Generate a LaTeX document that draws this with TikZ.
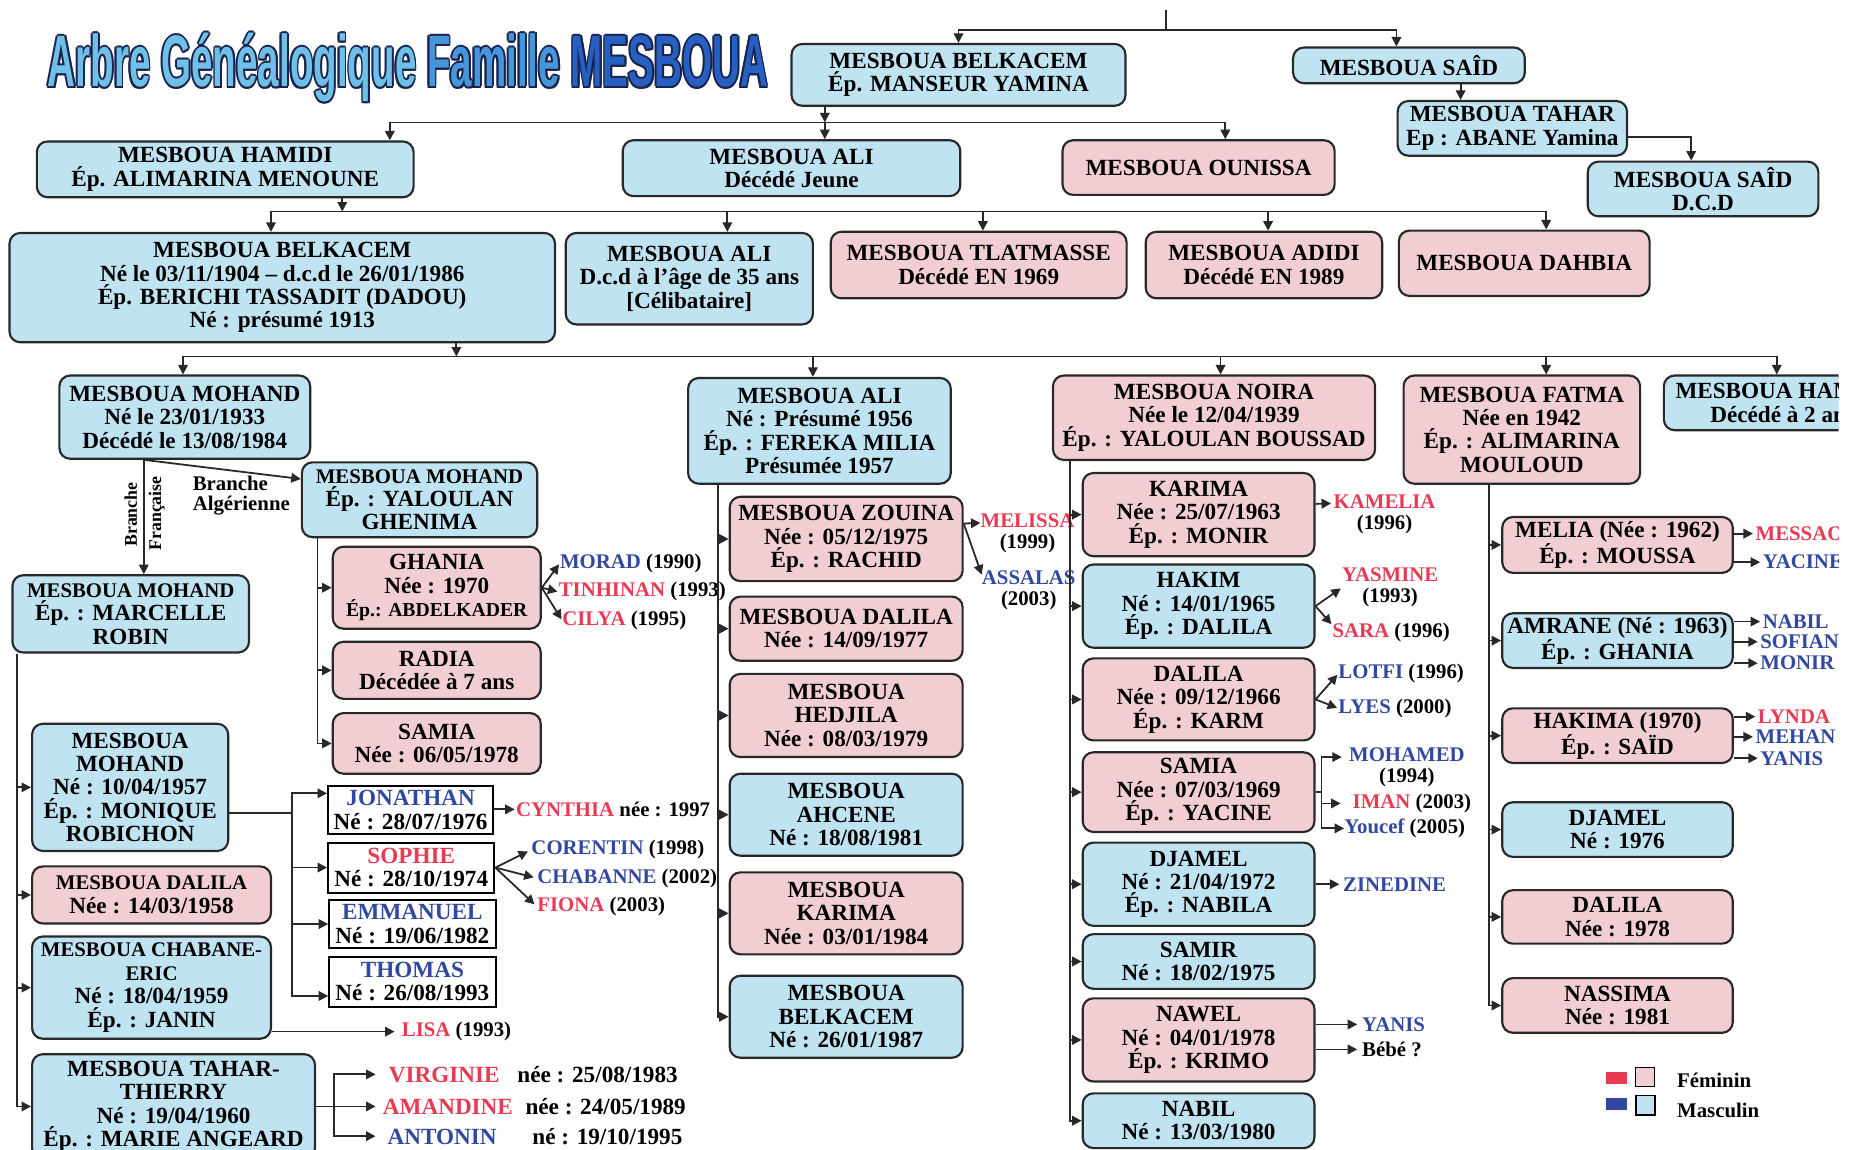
\documentclass[tikz,border=0pt]{standalone}
\usepackage{fontspec}
\usepackage{graphicx}
\setmainfont{Liberation Serif}
\newfontfamily\titlefont{Liberation Sans}
\usetikzlibrary{arrows.meta}
\definecolor{mfill}{RGB}{192,227,242}
\definecolor{ffill}{RGB}{241,206,210}
\definecolor{edge}{RGB}{40,40,40}
\definecolor{rtxt}{RGB}{232,58,82}
\definecolor{btxt}{RGB}{48,72,160}
\definecolor{tlight}{RGB}{110,192,232}
\definecolor{tmid}{RGB}{70,150,220}
\definecolor{tdark}{RGB}{40,95,195}
\definecolor{tline}{RGB}{25,35,75}
\newcommand\boxfont{\fontsize{19.5pt}{19.7pt}\selectfont\bfseries}
\newcommand\kidfont{\fontsize{17.5pt}{17.5pt}\selectfont\bfseries}
\newcommand\shrunk{\fontsize{17.5pt}{19.7pt}\selectfont}
\newcommand\fem[1]{\textcolor{rtxt}{#1}}
\newcommand\mas[1]{\textcolor{btxt}{#1}}
\newcommand\titletext[3]{\resizebox{606pt}{45pt}{\titlefont\bfseries\textcolor{#1}{Arbre Généalogique} \textcolor{#2}{Famille} \textcolor{#3}{MESBOUA}}}
\tikzset{
  person/.style={draw=edge, line width=1.8pt, rounded corners=9pt, align=center, inner sep=0pt, font=\boxfont},
  male/.style={person, fill=mfill},
  female/.style={person, fill=ffill},
  kid/.style={draw=black, line width=1.6pt, fill=white, align=center, inner sep=0pt, font=\boxfont},
  link/.style={draw=edge, line width=1.5pt},
  arr/.style={link, -{Triangle[length=8pt,width=8pt]}},
  gkid/.style={anchor=west, inner sep=0pt, align=center, font=\kidfont},
  titlebox/.style={anchor=base west, inner sep=0pt},
  swatch/.style={inner sep=0pt, minimum width=18pt, minimum height=10pt},
  keybox/.style={draw=black, line width=1.2pt, inner sep=0pt, minimum size=16pt}
}
\begin{document}
\begin{tikzpicture}[x=1pt, y=-1pt]
      \useasboundingbox (0,0) rectangle (1560,967.6);
      \clip (0,0) rectangle (1547,967.6);
      \node[titlebox] (tl1) at (38.5,73) {\titletext{tline}{tline}{tline}};
      \node[titlebox] (tl2) at (41.5,73) {\titletext{tline}{tline}{tline}};
      \node[titlebox] (tl3) at (40,71.5) {\titletext{tline}{tline}{tline}};
      \node[titlebox] (tl4) at (40,74.5) {\titletext{tline}{tline}{tline}};
      \node[titlebox] (tl5) at (38.9,71.9) {\titletext{tline}{tline}{tline}};
      \node[titlebox] (tl6) at (41.1,71.9) {\titletext{tline}{tline}{tline}};
      \node[titlebox] (tl7) at (38.9,74.1) {\titletext{tline}{tline}{tline}};
      \node[titlebox] (tl8) at (41.1,74.1) {\titletext{tline}{tline}{tline}};
      \node[titlebox] (title) at (40,73) {\titletext{tlight}{tmid}{tdark}};

      \node[male, minimum width=281pt, minimum height=52pt] (belk0) at (806.5,63) {MESBOUA BELKACEM\\Ép. MANSEUR YAMINA};
      \node[male, minimum width=195pt, minimum height=30pt] (said0) at (1185.5,55) {MESBOUA SAÎD};
      \node[male, minimum width=193pt, minimum height=46pt] (tahar0) at (1272.5,108) {MESBOUA TAHAR\\Ep : ABANE Yamina};
      \node[male, minimum width=194pt, minimum height=46pt] (said1) at (1433,159) {MESBOUA SAÎD\\D.C.D};

      \node[male, minimum width=317pt, minimum height=47pt] (hamidi) at (189.5,142.5) {MESBOUA HAMIDI\\Ép. ALIMARINA MENOUNE};
      \node[male, minimum width=284pt, minimum height=47pt] (ali1) at (666,141.5) {MESBOUA ALI\\Décédé Jeune};
      \node[female, minimum width=229pt, minimum height=46pt] (ounissa) at (1008.5,141) {MESBOUA OUNISSA};

      \node[male, minimum width=459pt, minimum height=92pt] (belk1) at (237.5,242) {MESBOUA BELKACEM\\Né le 03/11/1904 – d.c.d le 26/01/1986\\Ép. BERICHI TASSADIT (DADOU)\\Né : présumé 1913};
      \node[male, minimum width=208pt, minimum height=77pt] (ali2) at (580,234.5) {MESBOUA ALI\\D.c.d à l’âge de 35 ans\\{[Célibataire]}};
      \node[female, minimum width=249pt, minimum height=56pt] (tlat) at (823.5,223) {MESBOUA TLATMASSE\\Décédé EN 1969};
      \node[female, minimum width=199pt, minimum height=56pt] (adidi) at (1063.5,223) {MESBOUA ADIDI\\Décédé EN 1989};
      \node[female, minimum width=211pt, minimum height=55pt] (dahbia) at (1282.5,221.5) {MESBOUA DAHBIA};

      \node[male, minimum width=211pt, minimum height=70pt] (mohand) at (155.5,351) {MESBOUA MOHAND\\Né le 23/01/1933\\Décédé le 13/08/1984};
      \node[male, minimum width=221pt, minimum height=89pt] (ali3) at (689.5,362.5) {MESBOUA ALI\\Né : Présumé 1956\\Ép. : FEREKA MILIA\\Présumée 1957};
      \node[female, minimum width=271pt, minimum height=71pt] (noira) at (1021.5,351.5) {MESBOUA NOIRA\\Née le 12/04/1939\\Ép. : YALOULAN BOUSSAD};
      \node[female, minimum width=199pt, minimum height=91pt] (fatma) at (1280.5,361.5) {MESBOUA FATMA\\Née en 1942\\Ép. : ALIMARINA\\MOULOUD};
      \node[male, minimum width=200pt, minimum height=46pt] (hamidi2) at (1500,339) {MESBOUA HAMIDI\\Décédé à 2 ans};

      \node[male, minimum width=198pt, minimum height=63pt] (yalou) at (353,420.5) {{\shrunk MESBOUA MOHAND}\\Ép. : YALOULAN\\GHENIMA};
      \node[male, minimum width=199pt, minimum height=65pt] (robin) at (110,516.5) {{\shrunk MESBOUA MOHAND}\\Ép. : MARCELLE\\ROBIN};
      \node[rotate=90, inner sep=0pt, font=\fontsize{15pt}{15pt}\selectfont\bfseries] (brfr1) at (110,433) {Branche};
      \node[rotate=90, inner sep=0pt, font=\fontsize{15pt}{15pt}\selectfont\bfseries] (brfr2) at (132,432) {Française};
      \node[gkid, align=left] (bralg) at (162,417) {Branche\\Algérienne};

      \node[female, minimum width=175pt, minimum height=69pt] (ghania) at (367.5,494.5) {GHANIA\\Née : 1970\\{\fontsize{16.6pt}{19.7pt}\selectfont Ép.: ABDELKADER}};
      \node[female, minimum width=175pt, minimum height=48pt] (radia) at (367.5,564) {RADIA\\Décédée à 7 ans};
      \node[female, minimum width=175pt, minimum height=51pt] (samia1) at (367.5,625.5) {SAMIA\\Née : 06/05/1978};
      \node[gkid] (morad) at (471,474) {\mas{MORAD} (1990)};
      \node[gkid] (tinhi) at (470,498) {\fem{TINHINAN} (1993)};
      \node[gkid] (cilya) at (473,522) {\fem{CILYA} (1995)};

      \node[male, minimum width=165pt, minimum height=107pt] (mohand2) at (109.5,662.5) {MESBOUA\\MOHAND\\Né : 10/04/1957\\Ép. : MONIQUE\\ROBICHON};
      \node[female, minimum width=201pt, minimum height=48pt] (dalila1) at (127.5,753) {{\shrunk MESBOUA DALILA}\\Née : 14/03/1958};
      \node[male, minimum width=201pt, minimum height=86pt] (chabane) at (127.5,831) {{\shrunk MESBOUA CHABANE-}\\{\shrunk ERIC}\\Né : 18/04/1959\\Ép. : JANIN};
      \node[male, minimum width=238pt, minimum height=88pt] (tahar2) at (146,931) {MESBOUA TAHAR-\\THIERRY\\Né : 19/04/1960\\Ép. : MARIE ANGEARD};

      \node[kid, minimum width=139pt, minimum height=41pt] (jon) at (345.5,681.5) {\mas{JONATHAN}\\Né : 28/07/1976};
      \node[kid, minimum width=140pt, minimum height=42pt] (soph) at (346,730) {\fem{SOPHIE}\\Né : 28/10/1974};
      \node[kid, minimum width=140pt, minimum height=41pt] (emma) at (347,777.5) {\mas{EMMANUEL}\\Né : 19/06/1982};
      \node[kid, minimum width=140pt, minimum height=42pt] (thom) at (347,826) {\mas{THOMAS}\\Né : 26/08/1993};
      \node[gkid] (cynthia) at (434,681) {\fem{CYNTHIA} née : 1997};
      \node[gkid] (coren) at (447,715) {\mas{CORENTIN} (1998)};
      \node[gkid] (chab) at (452,739) {\mas{CHABANNE} (2002)};
      \node[gkid] (fiona) at (452,763) {\fem{FIONA} (2003)};
      \node[gkid] (lisa) at (338,868) {\fem{LISA} (1993)};
      \node[gkid, font=\boxfont] (virg) at (327,904) {\fem{VIRGINIE}\hspace{15pt}née : 25/08/1983};
      \node[gkid, font=\boxfont] (amand) at (322,931) {\fem{AMANDINE}\hspace{10.6pt}née : 24/05/1989};
      \node[gkid, font=\boxfont] (anton) at (326,956) {\mas{ANTONIN}\hspace{30pt}né : 19/10/1995};

      \node[female, minimum width=196pt, minimum height=71pt] (zouina) at (712,453.5) {MESBOUA ZOUINA\\Née : 05/12/1975\\Ép. : RACHID};
      \node[female, minimum width=196pt, minimum height=54pt] (dalila2) at (712,529) {MESBOUA DALILA\\Née : 14/09/1977};
      \node[female, minimum width=196pt, minimum height=70pt] (hedjila) at (712,602) {MESBOUA\\HEDJILA\\Née : 08/03/1979};
      \node[male, minimum width=196pt, minimum height=69pt] (ahcene) at (712,685.5) {MESBOUA\\AHCENE\\Né : 18/08/1981};
      \node[female, minimum width=196pt, minimum height=69pt] (karima1) at (712,768.5) {MESBOUA\\KARIMA\\Née : 03/01/1984};
      \node[male, minimum width=196pt, minimum height=69pt] (belk3) at (712,855.5) {MESBOUA\\BELKACEM\\Né : 26/01/1987};
      \node[gkid] (melissa) at (825,448.5) {\fem{MELISSA}\\(1999)};
      \node[gkid] (assalas) at (826,496.5) {\mas{ASSALAS}\\(2003)};

      \node[female, minimum width=195pt, minimum height=70pt] (karima2) at (1008.5,433) {KARIMA\\Née : 25/07/1963\\Ép. : MONIR};
      \node[male, minimum width=195pt, minimum height=70pt] (hakim) at (1008.5,510) {HAKIM\\Né : 14/01/1965\\Ép. : DALILA};
      \node[female, minimum width=195pt, minimum height=69pt] (dalila3) at (1008.5,588.5) {DALILA\\Née : 09/12/1966\\Ép. : KARM};
      \node[female, minimum width=195pt, minimum height=67pt] (samia2) at (1008.5,666.5) {SAMIA\\Née : 07/03/1969\\Ép. : YACINE};
      \node[male, minimum width=195pt, minimum height=70pt] (djamel1) at (1008.5,744) {DJAMEL\\Né : 21/04/1972\\Ép. : NABILA};
      \node[male, minimum width=195pt, minimum height=46pt] (samir) at (1008.5,809) {SAMIR\\Né : 18/02/1975};
      \node[female, minimum width=195pt, minimum height=70pt] (nawel) at (1008.5,875) {NAWEL\\Né : 04/01/1978\\Ép. : KRIMO};
      \node[male, minimum width=195pt, minimum height=46pt] (nabil) at (1008.5,943) {NABIL\\Né : 13/03/1980};
      \node[gkid] (kamelia) at (1122,432.5) {\fem{KAMELIA}\\(1996)};
      \node[gkid] (yasmine) at (1129,494.5) {\fem{YASMINE}\\(1993)};
      \node[gkid] (sara) at (1121,532) {\fem{SARA} (1996)};
      \node[gkid] (lotfi) at (1126,567) {\mas{LOTFI} (1996)};
      \node[gkid] (lyes) at (1126,596) {\mas{LYES} (2000)};
      \node[gkid] (mohamed) at (1135,645.5) {\mas{MOHAMED}\\(1994)};
      \node[gkid] (iman) at (1138,676) {\fem{IMAN} (2003)};
      \node[gkid] (youcef) at (1131,697) {\mas{Youcef} (2005)};
      \node[gkid] (zinedine) at (1130,744) {\mas{ZINEDINE}};
      \node[gkid] (yanis1) at (1146,862) {\mas{YANIS}};
      \node[gkid] (bebe) at (1146,883) {Bébé ?};

      \node[female, minimum width=194pt, minimum height=47pt] (melia) at (1361,458.5) {MELIA (Née : 1962)\\Ép. : MOUSSA};
      \node[male, minimum width=194pt, minimum height=46pt] (amrane) at (1361,539) {AMRANE (Né : 1963)\\Ép. : GHANIA};
      \node[female, minimum width=194pt, minimum height=46pt] (hakima) at (1361,619) {HAKIMA (1970)\\Ép. : SAÏD};
      \node[male, minimum width=194pt, minimum height=46pt] (djamel2) at (1361,698) {DJAMEL\\Né : 1976};
      \node[female, minimum width=194pt, minimum height=45pt] (dalila4) at (1361,771.5) {DALILA\\Née : 1978};
      \node[female, minimum width=194pt, minimum height=46pt] (nassima) at (1361,846) {NASSIMA\\Née : 1981};
      \node[gkid] (messao) at (1477,449) {\fem{MESSAO}};
      \node[gkid] (yacine) at (1483,473) {\mas{YACINE}};
      \node[gkid] (nabil2) at (1483,523) {\mas{NABIL}};
      \node[gkid] (sofian) at (1481,540) {\mas{SOFIAN}};
      \node[gkid] (monir) at (1481,558) {\mas{MONIR}};
      \node[gkid] (lynda) at (1479,603) {\fem{LYNDA}};
      \node[gkid] (mehan) at (1477,620) {\mas{MEHAN}};
      \node[gkid] (yanis2) at (1481,638) {\mas{YANIS}};

      \node[swatch, fill=rtxt] (fsw) at (1360,907) {};
      \node[keybox, fill=ffill] (fkey) at (1384,906) {};
      \node[gkid] (flab) at (1411,909) {Féminin};
      \node[swatch, fill=btxt] (msw) at (1360,929) {};
      \node[keybox, fill=mfill] (mkey) at (1384.5,930) {};
      \node[gkid] (mlab) at (1411,934) {Masculin};

      \coordinate (top) at (981,8);
      \coordinate (r0) at (981,25);
      \coordinate (r1) at (694,103);
      \coordinate (r2) at (288,178);
      \coordinate (r3) at (384,300);
      \coordinate (mk) at (246,684);
      \coordinate (tk) at (281,931);
      \coordinate (tkend) at (316,931);
      \coordinate (st) at ([xshift=43.5pt]said0.south);
      \coordinate (brx) at ([xshift=-34.5pt]mohand.south);
      \begin{scope}[arr]
        \draw[-] (top) -- (r0);
        \draw (r0) -| (belk0.north);
        \draw (r0) -| ([xshift=-10.5pt]said0.north);
        \draw (st) -- (st |- tahar0.north);
        \draw ([yshift=-7pt]tahar0.east) -| ([xshift=-10pt]said1.north);

        \draw (r1 |- belk0.south) -- (r1);
        \draw (r1) -- (r1 |- ali1.north);
        \draw (r1) -| ([xshift=138.5pt]hamidi.north);
        \draw (r1) -| ([xshift=22.5pt]ounissa.north);

        \draw (r2 |- hamidi.south) -- (r2);
        \draw (r2) -| ([xshift=-9.5pt]belk1.north);
        \draw (r2) -| ([xshift=32pt]ali2.north);
        \draw (r2) -| ([xshift=3.5pt]tlat.north);
        \draw (r2) -| ([xshift=3.5pt]adidi.north);
        \draw (r2) -| ([xshift=18.5pt]dahbia.north);

        \draw (r3 |- belk1.south) -- (r3);
        \draw (r3) -| ([xshift=-1.5pt]mohand.north);
        \draw (r3) -| ([xshift=-5.5pt]ali3.north);
        \draw (r3) -| ([xshift=5.5pt]noira.north);
        \draw (r3) -| ([xshift=20.5pt]fatma.north);
        \draw (r3) -| ([xshift=-5pt]hamidi2.north);

        \draw (brx) -- (brx |- robin.north);
        \draw (brx) -- ([yshift=17.5pt]yalou.west);

        \draw ([xshift=14pt]yalou.south west) coordinate (sy) |- (samia1.west);
        \draw (sy |- ghania.west) -- (ghania.west);
        \draw (sy |- radia.west) -- (radia.west);
        \draw[shorten >=1pt] (ghania.east) -- (morad.west);
        \draw[shorten >=1pt] (ghania.east) -- (tinhi.west);
        \draw[shorten >=1pt] (ghania.east) -- (cilya.west);

        \draw ([xshift=4.5pt]robin.south west) coordinate (sr) |- (tahar2.west);
        \draw (sr |- mohand2.west) -- (mohand2.west);
        \draw (sr |- dalila1.west) -- (dalila1.west);
        \draw (sr |- chabane.west) -- (chabane.west);

        \draw[-] (mohand2.east |- mk) -- (mk);
        \draw (mk) |- ([yshift=14pt]jon.west);
        \draw (mk |- soph.west) -- (soph.west);
        \draw (mk |- emma.west) -- (emma.west);
        \draw (mk) |- ([yshift=-12pt]thom.west);
        \draw[shorten >=1pt] (jon.east |- cynthia.west) -- (cynthia.west);
        \draw[shorten >=3pt] (soph.east) -- (coren.west);
        \draw[shorten >=3pt] (soph.east) -- (chab.west);
        \draw[shorten >=3pt] (soph.east) -- (fiona.west);
        \draw[shorten >=6pt] (chabane.east |- lisa.west) -- (lisa.west);

        \draw[-] (tahar2.east |- tk) -- (tk);
        \draw (tk) |- (virg.west -| tkend);
        \draw (tk) -- (amand.west -| tkend);
        \draw (tk) |- (anton.west -| tkend);

        \draw ([xshift=26pt]ali3.south west) coordinate (s3) |- (belk3.west);
        \draw (s3 |- zouina.west) -- (zouina.west);
        \draw (s3 |- dalila2.west) -- (dalila2.west);
        \draw (s3 |- hedjila.west) -- (hedjila.west);
        \draw (s3 |- ahcene.west) -- (ahcene.west);
        \draw (s3 |- karima1.west) -- (karima1.west);
        \draw ([yshift=13pt]zouina.east) -- ([yshift=8.5pt]melissa.west);
        \draw ([yshift=13pt]zouina.east) -- ([yshift=13pt]assalas.west);

        \draw ([xshift=15pt]noira.south west) coordinate (s4) |- (nabil.west);
        \draw (s4 |- karima2.west) -- (karima2.west);
        \draw (s4 |- hakim.west) -- (hakim.west);
        \draw (s4 |- dalila3.west) -- (dalila3.west);
        \draw (s4 |- samia2.west) -- (samia2.west);
        \draw (s4 |- djamel1.west) -- (djamel1.west);
        \draw (s4 |- samir.west) -- (samir.west);
        \draw (s4 |- nawel.west) -- (nawel.west);
        \draw[shorten >=2pt] ([yshift=9pt]karima2.east) -- ([yshift=9pt]kamelia.west);
        \draw[shorten >=1pt] (hakim.east) -- (yasmine.west);
        \draw[shorten >=1pt] (hakim.east) -- ([yshift=6pt]sara.west);
        \draw[shorten >=1pt] (dalila3.east) -- (lotfi.west);
        \draw[shorten >=1pt] (dalila3.east) -- (lyes.west);
        \draw[-] (samia2.east) -- ++(5,0) coordinate (sk);
        \draw (sk) |- ([xshift=-6pt,yshift=8.5pt]mohamed.west);
        \draw (sk) |- ([xshift=-10pt]iman.west);
        \draw (sk) |- (youcef.west);
        \draw[shorten >=3pt] (djamel1.east) -- (zinedine.west);
        \draw[shorten >=4pt] (nawel.east |- yanis1.west) -- (yanis1.west);
        \draw[shorten >=4pt] (nawel.east |- bebe.west) -- (bebe.west);

        \draw ([xshift=73pt]fatma.south west) coordinate (s5) |- (nassima.west);
        \draw (s5 |- melia.west) -- (melia.west);
        \draw (s5 |- amrane.west) -- (amrane.west);
        \draw (s5 |- hakima.west) -- (hakima.west);
        \draw (s5 |- djamel2.west) -- (djamel2.west);
        \draw (s5 |- dalila4.west) -- (dalila4.west);
        \draw[shorten >=2pt] (melia.east |- messao.west) -- (messao.west);
        \draw[shorten >=2pt] (melia.east |- yacine.west) -- (yacine.west);
        \draw[shorten >=2pt] (amrane.east |- nabil2.west) -- (nabil2.west);
        \draw[shorten >=2pt] (amrane.east |- sofian.west) -- (sofian.west);
        \draw[shorten >=2pt] (amrane.east |- monir.west) -- (monir.west);
        \draw[shorten >=2pt] (hakima.east |- lynda.west) -- (lynda.west);
        \draw[shorten >=2pt] (hakima.east |- mehan.west) -- (mehan.west);
        \draw[shorten >=2pt] (hakima.east |- yanis2.west) -- (yanis2.west);
      \end{scope}
    \end{tikzpicture}
\end{document}
